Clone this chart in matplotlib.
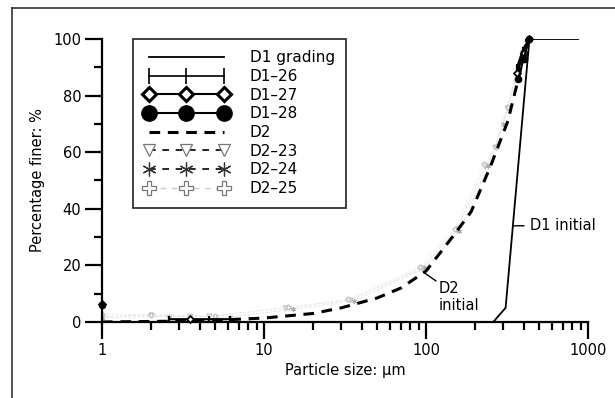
import numpy as np
import matplotlib
matplotlib.use("Agg")
import matplotlib.pyplot as plt
from matplotlib.lines import Line2D

nan = np.nan

# ---- data ----
d1_grading_x = [260, 310, 435, 870]
d1_grading_y = [0, 5, 100, 100]

d2_x = [1, 3, 5, 10, 20, 30, 50, 70, 100, 150, 190, 250, 320, 370, 420]
d2_y = [0, 0.3, 0.6, 1.4, 3, 5, 8.5, 12, 18, 31, 39, 55, 71, 85.5, 100]

d1_26_x = [1, nan, 2.6, 4.6, 6.2, nan, 365, 395, 432]
d1_26_y = [6, nan, 1.0, 1.0, 1.0, nan, 90, 96, 100]
d1_27_x = [1, nan, 3.5, nan, 365, 400, 432]
d1_27_y = [6.5, nan, 1.0, nan, 88, 95, 100]
d1_28_x = [1, nan, 372, 400, 434]
d1_28_y = [6, nan, 86, 93, 100]

d2_23_x = [1, 2.0, 3.5, 4.6, 13.5, 34, 94, 155, 232, 268, 316, 390]
d2_23_y = [2, 2.5, 2.2, 2.0, 5, 7.8, 19, 33, 55, 62, 75.6, 95]
d2_24_x = [1, 2.6, 6.2, 15, 36, 98, 160, 240, 300, 380]
d2_24_y = [1.5, 2.0, 1.8, 4.5, 7.5, 19, 32, 55, 70, 92]
d2_25_x = [1, 2.0, 5.0, 14, 33, 92, 150, 228, 270, 320, 400]
d2_25_y = [3, 2.5, 2.0, 5.2, 8, 19.5, 33, 56, 62, 76, 97]

xticks_major = [1, 10, 100, 1000]
xtick_labels = ["1", "10", "100", "1000"]
yticks_major = [0, 20, 40, 60, 80, 100]

# ---- figure ----
fig = plt.figure(figsize=(6.15, 3.98), dpi=100)
ax = fig.add_axes([102/615, 1-322/398, 486/615, (322-39)/398])

ax.plot(d1_grading_x, d1_grading_y, color="black", lw=1.3, zorder=3)
ax.plot(d2_x, d2_y, color="black", lw=2.2, ls=(0, (3.5, 2.5)), zorder=3)

ax.plot(d2_23_x, d2_23_y, color="#e2e2e2", lw=0.6, ls="--", marker="v",
        ms=3.5, mfc="white", mec="#b5b5b5", mew=0.7, zorder=2)
ax.plot(d2_24_x, d2_24_y, color="#e2e2e2", lw=0.6, ls="--", marker=(6, 2, 0),
        ms=3.5, mec="#aaaaaa", mew=0.7, zorder=2)
ax.plot(d2_25_x, d2_25_y, color="#eeeeee", lw=0.6, ls="--", marker="P",
        ms=3.5, mfc="white", mec="#bbbbbb", mew=0.7, zorder=2)

ax.plot(d1_26_x, d1_26_y, color="black", lw=1.5, marker="|", ms=5, mew=1.5,
        zorder=4, clip_on=False)
ax.plot(d1_27_x, d1_27_y, color="black", lw=1.5, marker="D", ms=3.5,
        mfc="white", mec="black", mew=1.3, zorder=4, clip_on=False)
ax.plot(d1_28_x, d1_28_y, color="black", lw=1.5, marker="o", ms=4.5,
        zorder=4, clip_on=False)

ax.set_xscale("log")
ax.set_xlim(1, 1000)
ax.set_ylim(0, 100)

for s in ["top", "right"]:
    ax.spines[s].set_visible(False)
for s in ["left", "bottom"]:
    ax.spines[s].set_linewidth(1.6)

ax.set_xticks(xticks_major)
ax.set_xticklabels(xtick_labels)
ax.set_yticks(yticks_major)
ax.set_yticks([10, 30, 50, 70, 90], minor=True)
ax.tick_params(axis="both", which="major", direction="out", length=12, width=1.6,
               labelsize=10.5, pad=3)
ax.tick_params(axis="both", which="minor", direction="out", length=6, width=1.6)
ax.xaxis.set_minor_formatter(matplotlib.ticker.NullFormatter())

ax.set_xlabel("Particle size: μm", fontsize=10.5, labelpad=4)
ax.set_ylabel("Percentage finer: %", fontsize=10.5, labelpad=6)

# annotations
ax.annotate("D1 initial", xy=(344, 34), xytext=(436, 34), fontsize=10.5,
            va="center", ha="left",
            arrowprops=dict(arrowstyle="-", color="black", lw=1.0,
                            shrinkA=2, shrinkB=0))
ax.annotate("D2\ninitial", xy=(97, 17.5), xytext=(120, 8.8), fontsize=10.5,
            va="center", ha="left", linespacing=1.15,
            arrowprops=dict(arrowstyle="-", color="black", lw=1.0,
                            shrinkA=15, shrinkB=0))

# legend (proxy handles)
handles = [
    Line2D([], [], color="black", lw=1.3),
    Line2D([], [], color="black", lw=1.2, marker="|", ms=12, mew=1.2),
    Line2D([], [], color="black", lw=1.5, marker="D", ms=7, mfc="white", mec="black", mew=2.2),
    Line2D([], [], color="black", lw=1.5, marker="o", ms=11),
    Line2D([], [], color="black", lw=2.2, ls=(0, (3.5, 2.5))),
    Line2D([], [], color="black", lw=1.2, ls=(0, (4, 4)), marker="v", ms=9, mfc="white", mec="#777777", mew=0.9),
    Line2D([], [], color="black", lw=1.2, ls=(0, (4, 4)), marker=(6, 2, 0), ms=10, mec="#333333", mew=0.9),
    Line2D([], [], color="#cccccc", lw=1.0, ls=(0, (4, 4)), marker="P", ms=10, mfc="white", mec="#777777", mew=0.9),
]
labels = ["D1 grading", "D1–26", "D1–27", "D1–28", "D2", "D2–23", "D2–24", "D2–25"]
leg = ax.legend(handles, labels, loc="upper left", bbox_to_anchor=(31/486, 1.0),
                borderaxespad=0, fontsize=11, numpoints=3, handlelength=5.5,
                handletextpad=1.4, labelspacing=0.24, frameon=True, fancybox=False,
                borderpad=0.75)
leg.get_frame().set_edgecolor("black")
leg.get_frame().set_linewidth(1.3)

# outer frame (top and left edges visible)
fig.add_artist(Line2D([12/615, 1], [1-8/398, 1-8/398], color="#333333", lw=1.2,
                      transform=fig.transFigure))
fig.add_artist(Line2D([12/615, 12/615], [1-8/398, 0], color="#333333", lw=1.2,
                      transform=fig.transFigure))

fig.savefig("out.png", dpi=100)
